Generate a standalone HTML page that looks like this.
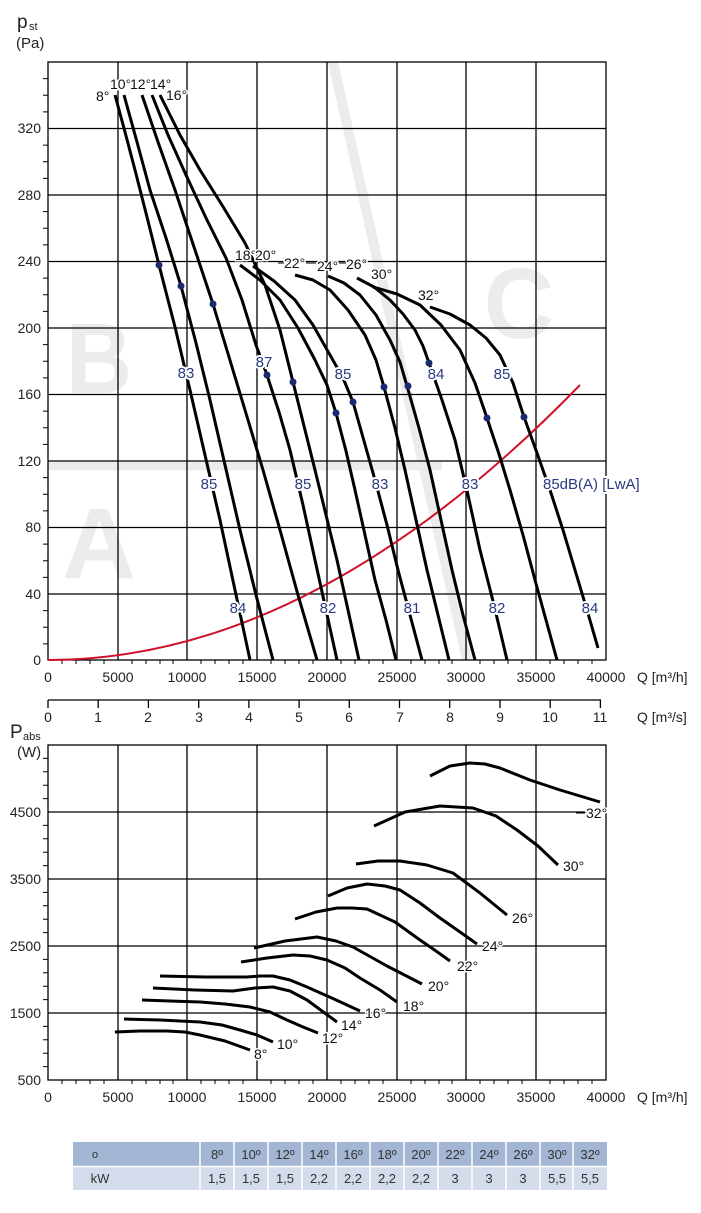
<!DOCTYPE html>
<html><head><meta charset="utf-8"><style>
html,body{margin:0;padding:0;background:#fff;}
svg text{font-family:"Liberation Sans",sans-serif;}
</style></head><body>
<svg width="701" height="1208" viewBox="0 0 701 1208" xmlns="http://www.w3.org/2000/svg">
<!-- watermark -->
<g fill="#ececec" font-weight="bold">
<text x="66" y="393" font-size="100" textLength="66" lengthAdjust="spacingAndGlyphs">B</text>
<text x="62" y="578" font-size="100" textLength="74" lengthAdjust="spacingAndGlyphs">A</text>
<text x="484" y="338" font-size="100" textLength="70" lengthAdjust="spacingAndGlyphs">C</text>
</g>
<line x1="48" y1="466" x2="442" y2="466" stroke="#ececec" stroke-width="9"/>
<line x1="333" y1="62" x2="467" y2="660" stroke="#ececec" stroke-width="10"/>

<!-- top grid -->
<g stroke="#000" stroke-width="1.3" fill="none">
<rect x="48" y="62" width="558" height="598"/>
<path d="M118 62V660M187 62V660M257 62V660M327 62V660M397 62V660M466 62V660M536 62V660"/>
<path d="M48 128.5H606M48 195H606M48 261.5H606M48 328H606M48 394.5H606M48 461H606M48 527.5H606M48 594H606"/>
</g>
<g stroke="#000" stroke-width="1">
<path d="M43 78.6H48M43 95.3H48M43 111.9H48M43 145.1H48M43 161.8H48M43 178.4H48M43 211.6H48M43 228.3H48M43 244.9H48M43 278.1H48M43 294.8H48M43 311.4H48M43 344.6H48M43 361.3H48M43 377.9H48M43 411.1H48M43 427.8H48M43 444.4H48M43 477.6H48M43 494.3H48M43 510.9H48M43 544.1H48M43 560.8H48M43 577.4H48M43 610.6H48M43 627.3H48M43 643.9H48"/>
<path d="M62 660v4M76 660v4M90 660v4M104 660v4M132 660v4M146 660v4M160 660v4M173 660v4M201 660v4M215 660v4M229 660v4M243 660v4M271 660v4M285 660v4M299 660v4M313 660v4M341 660v4M355 660v4M369 660v4M383 660v4M411 660v4M425 660v4M439 660v4M452 660v4M480 660v4M494 660v4M508 660v4M522 660v4M550 660v4M564 660v4M578 660v4M592 660v4"/>
</g>
<g font-size="14" fill="#222" text-anchor="end">
<text x="41" y="133">320</text><text x="41" y="200">280</text><text x="41" y="266">240</text><text x="41" y="333">200</text><text x="41" y="399">160</text><text x="41" y="466">120</text><text x="41" y="532">80</text><text x="41" y="599">40</text><text x="41" y="665">0</text>
</g>
<text x="17" y="28" font-size="19" fill="#222">p</text><text x="29" y="30" font-size="11" fill="#222">st</text>
<text x="16" y="48" font-size="15" fill="#222">(Pa)</text>
<g font-size="14" fill="#222" text-anchor="middle">
<text x="48" y="682">0</text><text x="118" y="682">5000</text><text x="187" y="682">10000</text><text x="257" y="682">15000</text><text x="327" y="682">20000</text><text x="397" y="682">25000</text><text x="466" y="682">30000</text><text x="536" y="682">35000</text><text x="606" y="682">40000</text>
</g>
<text x="637" y="682" font-size="14" fill="#222">Q [m³/h]</text>

<!-- m3/s axis -->
<g stroke="#000" stroke-width="1.3"><path d="M48 700H601"/>
<path d="M48 700v8M98.2 700v8M148.4 700v8M198.7 700v8M248.9 700v8M299.1 700v8M349.3 700v8M399.5 700v8M449.7 700v8M500 700v8M550.2 700v8M600.4 700v8"/></g>
<g font-size="14" fill="#222" text-anchor="middle">
<text x="48" y="722">0</text><text x="98" y="722">1</text><text x="148" y="722">2</text><text x="199" y="722">3</text><text x="249" y="722">4</text><text x="299" y="722">5</text><text x="349" y="722">6</text><text x="400" y="722">7</text><text x="450" y="722">8</text><text x="500" y="722">9</text><text x="550" y="722">10</text><text x="600" y="722">11</text>
</g>
<text x="637" y="722" font-size="14" fill="#222">Q [m³/s]</text>

<!-- red system curve -->
<path d="M48 660 Q 313 660 580 385" stroke="#d0102a" stroke-width="2" fill="none"/>

<!-- pressure curves -->
<g stroke="#000" stroke-width="3" fill="none" stroke-linejoin="round" stroke-linecap="butt">
<polyline points="115,95 125,132 135,170 147,217 159,265 175,327 190,390 205,455 220,520 235,590 250,660"/>
<polyline points="124,95 137,142 150,190 166,238 181,286 196,343 210,400 225,465 240,530 256,595 273,660"/>
<polyline points="142,95 158,142 175,190 194,247 213,304 229,357 245,410 263,470 280,530 298,595 317,660"/>
<polyline points="152,95 168,135 186,175 206,218 226,258 242,300 256,345 267,375 279,412 290,450 303,505 315,560 326,610 337,660"/>
<polyline points="160,95 180,135 200,170 222,205 245,243 265,285 280,330 293,382 304,426 315,470 326,515 337,560 348,610 359,660"/>
<polyline points="240,265 260,280 280,300 298,328 315,360 327,385 336,413 346,451 355,490 365,535 375,580 386,620 396,660"/>
<polyline points="253,266 274,281 295,300 313,325 330,355 343,378 353,402 364,441 375,480 387,525 398,570 410,615 422,660"/>
<polyline points="295,275 313,280 330,290 348,310 365,335 376,360 384,387 395,428 405,470 416,520 427,570 438,615 449,660"/>
<polyline points="328,276 344,283 360,295 376,315 390,340 400,362 407,386 419,428 430,470 441,520 452,570 463,615 475,660"/>
<polyline points="357,278 374,287 390,300 403,314 415,330 423,346 429,363 442,400 455,440 468,495 480,550 494,605 507,660"/>
<polyline points="373,287 397,294 420,305 441,325 460,350 475,383 487,418 499,454 510,490 523,535 535,580 546,620 557,660"/>
<polyline points="430,307 450,314 470,325 486,338 500,355 513,383 524,417 537,453 550,490 563,530 575,570 587,610 598,648"/>
</g>
<g fill="#1a2a6c">
<circle cx="159" cy="265" r="3.5"/><circle cx="181" cy="286" r="3.5"/><circle cx="213" cy="304" r="3.5"/><circle cx="267" cy="375" r="3.5"/><circle cx="293" cy="382" r="3.5"/><circle cx="336" cy="413" r="3.5"/><circle cx="353" cy="402" r="3.5"/><circle cx="384" cy="387" r="3.5"/><circle cx="408" cy="386" r="3.5"/><circle cx="429" cy="363" r="3.5"/><circle cx="487" cy="418" r="3.5"/><circle cx="524" cy="417" r="3.5"/>
</g>
<!-- dB labels -->
<g font-size="15" fill="#2a3a80" text-anchor="middle" stroke="#fff" stroke-width="4" paint-order="stroke">
<text x="186" y="378">83</text><text x="264" y="367">87</text><text x="343" y="379">85</text><text x="436" y="379">84</text><text x="502" y="379">85</text>
<text x="209" y="489">85</text><text x="303" y="489">85</text><text x="380" y="489">83</text><text x="470" y="489">83</text>
<text x="543" y="489" text-anchor="start">85dB(A) [LwA]</text>
<text x="238" y="613">84</text><text x="328" y="613">82</text><text x="412" y="613">81</text><text x="497" y="613">82</text><text x="590" y="613">84</text>
</g>
<!-- angle labels -->
<g font-size="14" fill="#111" stroke="#fff" stroke-width="3" paint-order="stroke">
<text x="96" y="101">8°</text><text x="110" y="89">10°</text><text x="130" y="89">12°</text><text x="150" y="89">14°</text><text x="166" y="100">16°</text>
<text x="235" y="260">18°</text><text x="255" y="260">20°</text><text x="284" y="268">22°</text><text x="317" y="271">24°</text><text x="346" y="269">26°</text><text x="371" y="279">30°</text><text x="418" y="300">32°</text>
</g>
<path d="M278 263H284M306 263H316M339 263H346" stroke="#000" stroke-width="1"/>

<!-- bottom chart -->
<g stroke="#000" stroke-width="1.3" fill="none">
<rect x="48" y="745" width="558" height="335"/>
<path d="M118 745V1080M187 745V1080M257 745V1080M327 745V1080M397 745V1080M466 745V1080M536 745V1080"/>
<path d="M48 812H606M48 879H606M48 946H606M48 1013H606"/>
</g>
<g stroke="#000" stroke-width="1">
<path d="M43 758.4H48M43 771.8H48M43 785.2H48M43 798.6H48M43 825.4H48M43 838.8H48M43 852.2H48M43 865.6H48M43 892.4H48M43 905.8H48M43 919.2H48M43 932.6H48M43 959.4H48M43 972.8H48M43 986.2H48M43 999.6H48M43 1026.4H48M43 1039.8H48M43 1053.2H48M43 1066.6H48"/>
<path d="M62 1080v4M76 1080v4M90 1080v4M104 1080v4M132 1080v4M146 1080v4M160 1080v4M173 1080v4M201 1080v4M215 1080v4M229 1080v4M243 1080v4M271 1080v4M285 1080v4M299 1080v4M313 1080v4M341 1080v4M355 1080v4M369 1080v4M383 1080v4M411 1080v4M425 1080v4M439 1080v4M452 1080v4M480 1080v4M494 1080v4M508 1080v4M522 1080v4M550 1080v4M564 1080v4M578 1080v4M592 1080v4"/>
</g>
<g font-size="14" fill="#222" text-anchor="end">
<text x="41" y="817">4500</text><text x="41" y="884">3500</text><text x="41" y="951">2500</text><text x="41" y="1018">1500</text><text x="41" y="1085">500</text>
</g>
<text x="10" y="738" font-size="19" fill="#222">P</text><text x="23" y="740" font-size="11" fill="#222">abs</text>
<text x="17" y="757" font-size="15" fill="#222">(W)</text>
<g font-size="14" fill="#222" text-anchor="middle">
<text x="48" y="1102">0</text><text x="118" y="1102">5000</text><text x="187" y="1102">10000</text><text x="257" y="1102">15000</text><text x="327" y="1102">20000</text><text x="397" y="1102">25000</text><text x="466" y="1102">30000</text><text x="536" y="1102">35000</text><text x="606" y="1102">40000</text>
</g>
<text x="637" y="1102" font-size="14" fill="#222">Q [m³/h]</text>

<g stroke="#000" stroke-width="3" fill="none" stroke-linejoin="round">
<polyline points="115,1032 140,1031 167,1031 185,1032 200,1035 225,1041 250,1050"/>
<polyline points="124,1019 160,1020 200,1022 222,1025 240,1030 257,1035 273,1042"/>
<polyline points="142,1000 170,1001 200,1002 225,1004 250,1007 270,1012 287,1020 303,1027 318,1033"/>
<polyline points="153,988 195,990 233,991 255,988 273,987 290,991 307,1000 322,1011 337,1022"/>
<polyline points="160,976 205,977 247,977 260,976 273,976 290,980 307,987 334,999 360,1011"/>
<polyline points="241,962 267,958 293,955 310,956 327,960 345,968 360,978 380,990 397,1002"/>
<polyline points="254,948 285,941 317,937 336,941 353,947 387,966 422,984"/>
<polyline points="295,919 316,912 337,908 352,908 367,909 395,922 420,940 436,951 450,961"/>
<polyline points="328,896 347,888 367,884 385,886 400,890 420,903 440,918 460,932 477,944"/>
<polyline points="356,864 378,861 400,861 427,865 453,873 480,893 507,915"/>
<polyline points="374,826 405,812 440,806 473,808 496,816 517,830 538,846 558,865"/>
<polyline points="430,776 450,766 470,763 485,764 500,768 530,780 560,790 600,802"/>
</g>
<g font-size="14" fill="#111" stroke="#fff" stroke-width="3" paint-order="stroke">
<text x="254" y="1059">8°</text><text x="277" y="1049">10°</text><text x="322" y="1043">12°</text><text x="341" y="1030">14°</text><text x="365" y="1018">16°</text><text x="403" y="1011">18°</text><text x="428" y="991">20°</text><text x="457" y="971">22°</text><text x="482" y="951">24°</text><text x="512" y="923">26°</text><text x="563" y="871">30°</text><text x="586" y="818">32°</text>
</g>
<path d="M361 1013H364M397 1013H402M576 813H585M477 946H482" stroke="#000" stroke-width="1"/>

<!-- table -->
<g>
<rect x="73" y="1142" width="534" height="24" fill="#a3b6d4"/>
<rect x="73" y="1167" width="534" height="23" fill="#d4dceb"/>
<g stroke="#fff" stroke-width="1.5">
<path d="M200 1142V1190M234 1142V1190M268 1142V1190M302 1142V1190M336 1142V1190M370 1142V1190M404 1142V1190M438 1142V1190M472 1142V1190M506 1142V1190M540 1142V1190M573 1142V1190M73 1166.5H607"/>
</g>
<g font-size="13" fill="#333" text-anchor="middle">
<text x="95" y="1158" font-size="11">o</text>
<text x="217" y="1159">8º</text><text x="251" y="1159">10º</text><text x="285" y="1159">12º</text><text x="319" y="1159">14º</text><text x="353" y="1159">16º</text><text x="387" y="1159">18º</text><text x="421" y="1159">20º</text><text x="455" y="1159">22º</text><text x="489" y="1159">24º</text><text x="523" y="1159">26º</text><text x="557" y="1159">30º</text><text x="590" y="1159">32º</text>
<text x="100" y="1183">kW</text>
<text x="217" y="1183">1,5</text><text x="251" y="1183">1,5</text><text x="285" y="1183">1,5</text><text x="319" y="1183">2,2</text><text x="353" y="1183">2,2</text><text x="387" y="1183">2,2</text><text x="421" y="1183">2,2</text><text x="455" y="1183">3</text><text x="489" y="1183">3</text><text x="523" y="1183">3</text><text x="557" y="1183">5,5</text><text x="590" y="1183">5,5</text>
</g>
</g>
</svg>
</body></html>
